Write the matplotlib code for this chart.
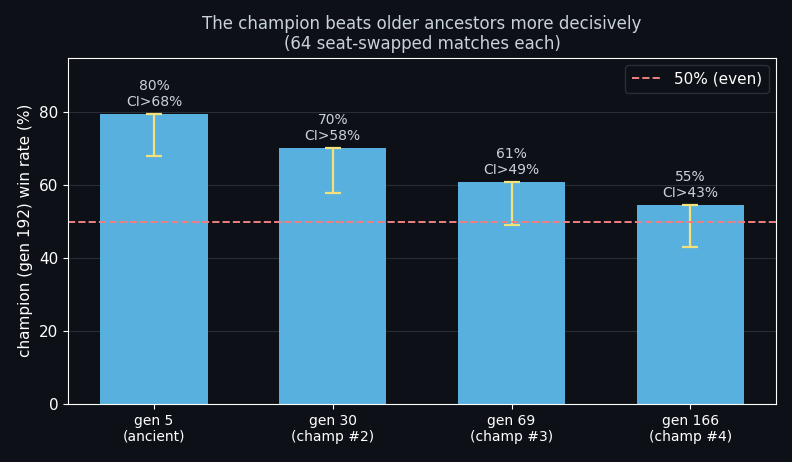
import matplotlib
matplotlib.use("Agg")
import matplotlib.pyplot as plt
import numpy as np

labels = ["gen 5\n(ancient)", "gen 30\n(champ #2)", "gen 69\n(champ #3)", "gen 166\n(champ #4)"]
wins = [51, 45, 39, 35]
games = 64
ci_low = [68, 58, 49, 43]

rates = [100 * w / games for w in wins]
x = np.arange(len(labels))

bg = "#0d1117"
fg = "#c9d1d9"

fig, ax = plt.subplots(figsize=(7.92, 4.62), dpi=100)
fig.patch.set_facecolor(bg)
ax.set_facecolor(bg)

ax.grid(axis="y", color="#30363d", linewidth=0.8, alpha=0.8)
ax.set_axisbelow(True)

ax.bar(x, rates, width=0.6, color="#58b0de")
lower = [r - c for r, c in zip(rates, ci_low)]
ax.errorbar(x, rates, yerr=[lower, [0] * len(rates)], fmt="none",
            ecolor="#f5e17a", elinewidth=1.6, capsize=6, capthick=1.6)
ax.axhline(50, color="#f08080", linestyle="--", linewidth=1.4, label="50% (even)")

for xi, r, c in zip(x, rates, ci_low):
    ax.text(xi, r + 1.3, f"{r:.0f}%\nCI>{c}%", ha="center", va="bottom",
            color=fg, fontsize=10)

ax.set_ylim(0, 95)
ax.set_xticks(x)
ax.set_xticklabels(labels, color="white", fontsize=10)
ax.tick_params(colors="white", labelsize=11)
ax.tick_params(axis="x", labelsize=10)
for s in ax.spines.values():
    s.set_color("white")
ax.set_ylabel("champion (gen 192) win rate (%)", color="white", fontsize=11)
ax.set_title("The champion beats older ancestors more decisively\n(64 seat-swapped matches each)",
             color=fg, fontsize=12)

leg = ax.legend(loc="upper right", facecolor=bg, edgecolor="#30363d", fontsize=11)
for t in leg.get_texts():
    t.set_color("white")

fig.subplots_adjust(left=0.086, right=0.98, top=0.875, bottom=0.126)
fig.savefig("out.png", facecolor=bg)
